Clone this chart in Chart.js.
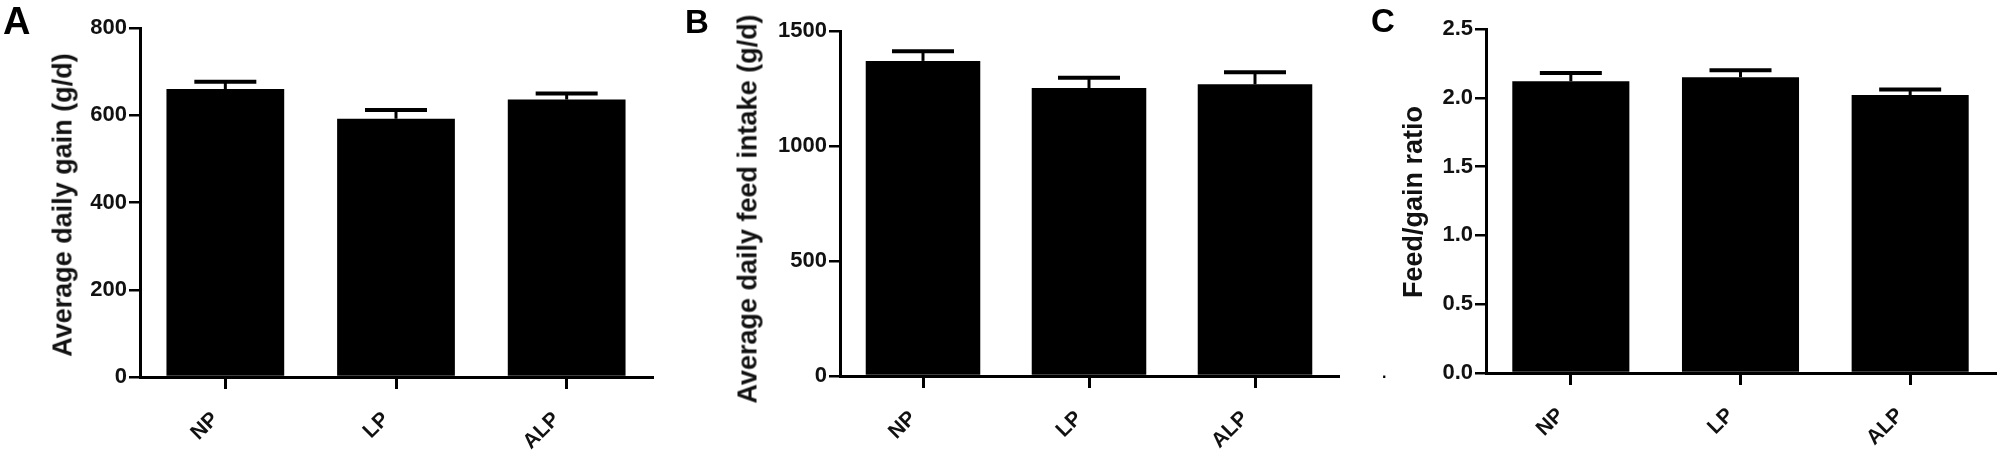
<!DOCTYPE html>
<html>
<head>
<meta charset="utf-8">
<script src="https://cdn.jsdelivr.net/npm/chart.js@4.4.1/dist/chart.umd.min.js"></script>
<style>
  body { margin: 0; background: #fff; width: 2007px; height: 458px; overflow: hidden; position: relative;
         font-family: "Liberation Sans", Arial, sans-serif; }
  .panel { position: absolute; top: 0; height: 458px; }
  .letter { position: absolute; font-weight: bold; line-height: 1; color: #000; }
  .ytitle { position: absolute; font-weight: bold; font-size: 27px; line-height: 1; white-space: nowrap;
            color: #111; transform: translate(-50%, -50%) rotate(-90deg); }
</style>
</head>
<body>
<div class="panel" style="left:0;width:670px"><canvas id="chartA"></canvas></div>
<div class="panel" style="left:670px;width:670px"><canvas id="chartB"></canvas></div>
<div class="panel" style="left:1340px;width:667px"><canvas id="chartC"></canvas></div>

<div class="letter" style="left:3px;top:2px;font-size:38px">A</div>
<div class="letter" style="left:685px;top:5px;font-size:33px">B</div>
<div class="letter" style="left:1371px;top:4px;font-size:33px">C</div>

<div class="ytitle" style="left:63px;top:205px">Average daily gain (g/d)</div>
<div class="ytitle" style="left:748px;top:209px">Average daily feed intake (g/d)</div>
<div class="ytitle" style="left:1413px;top:202px">Feed/gain ratio</div>
<div class="letter" style="left:1382px;top:365px;font-size:16px">.</div>

<script>
// groups on the x axis
const categories = ['NP', 'LP', 'ALP'];

// A: average daily gain (g/d), mean and SEM
const gainMeans = [660, 592, 636];
const gainErrors = [17, 20, 14];
const gainTicks = [0, 200, 400, 600, 800];

// B: average daily feed intake (g/d)
const intakeMeans = [1370, 1252, 1268];
const intakeErrors = [42, 45, 53];
const intakeTicks = [0, 500, 1000, 1500];

// C: feed/gain ratio
const ratioMeans = [2.12, 2.15, 2.02];
const ratioErrors = [0.06, 0.05, 0.04];
const ratioTicks = [0, 0.5, 1.0, 1.5, 2.0, 2.5];

const FONT = '"Liberation Sans", Arial, sans-serif';

// draws the upward-only error bars (GraphPad style)
const errorBarPlugin = {
    id: 'errorBars',
    afterDatasetsDraw(chart, args, opts) {
        const ctx = chart.ctx;
        const yScale = chart.scales.y;
        const values = chart.data.datasets[0].data;
        ctx.save();
        ctx.strokeStyle = '#000';
        chart.getDatasetMeta(0).data.forEach((bar, i) => {
            const top = yScale.getPixelForValue(values[i] + opts.errors[i]);
            ctx.lineWidth = 3;
            ctx.beginPath();
            ctx.moveTo(bar.x, bar.y);
            ctx.lineTo(bar.x, top);
            ctx.stroke();
            ctx.lineWidth = 4;
            ctx.beginPath();
            ctx.moveTo(bar.x - 31, top);
            ctx.lineTo(bar.x + 31, top);
            ctx.stroke();
        });
        ctx.restore();
    }
};

function makePanel(id, means, errors, ticks, decimals, box) {
    const ctx = document.getElementById(id).getContext('2d');
    return new Chart(ctx, {
        type: 'bar',
        data: {
            labels: categories,
            datasets: [{
                data: means,
                backgroundColor: '#000',
                borderColor: '#111',
                borderWidth: 0,
                barPercentage: 0.69,
                categoryPercentage: 1.0
            }]
        },
        options: {
            responsive: true,
            maintainAspectRatio: false,
            animation: false,
            layout: { padding: { left: 0, right: box.right, top: box.top, bottom: 0 } },
            plugins: {
                legend: { display: false },
                tooltip: { enabled: false },
                errorBars: { errors: errors }
            },
            scales: {
                x: {
                    offset: true,
                    grid: { offset: false, drawOnChartArea: false, drawTicks: true, tickLength: 12, color: '#000', lineWidth: 3 },
                    border: { display: true, color: '#000', width: 3 },
                    ticks: {
                        autoSkip: false, minRotation: 45, maxRotation: 45, padding: 18, labelOffset: -10,
                        color: '#111', font: { family: FONT, size: 21, weight: 'bold' }
                    },
                    afterFit: s => { s.height = box.xHeight; }
                },
                y: {
                    min: ticks[0],
                    max: ticks[ticks.length - 1],
                    afterBuildTicks: s => { s.ticks = ticks.map(v => ({ value: v })); },
                    grid: { drawOnChartArea: false, drawTicks: true, tickLength: 11, color: '#000', lineWidth: 2.5 },
                    border: { display: true, color: '#000', width: 3 },
                    ticks: {
                        padding: 2,
                        color: '#111',
                        font: { family: FONT, size: 22, weight: 'bold' },
                        callback: v => decimals ? Number(v).toFixed(decimals) : String(v)
                    },
                    afterFit: s => { s.width = box.yWidth; }
                }
            }
        },
        plugins: [errorBarPlugin]
    });
}

makePanel('chartA', gainMeans, gainErrors, gainTicks, 0,
    { top: 28, right: 18, yWidth: 140, xHeight: 458 - 377 });
makePanel('chartB', intakeMeans, intakeErrors, intakeTicks, 0,
    { top: 31, right: 2, yWidth: 170, xHeight: 458 - 376 });
makePanel('chartC', ratioMeans, ratioErrors, ratioTicks, 1,
    { top: 29, right: 12, yWidth: 146, xHeight: 458 - 373 });
</script>
</body>
</html>
